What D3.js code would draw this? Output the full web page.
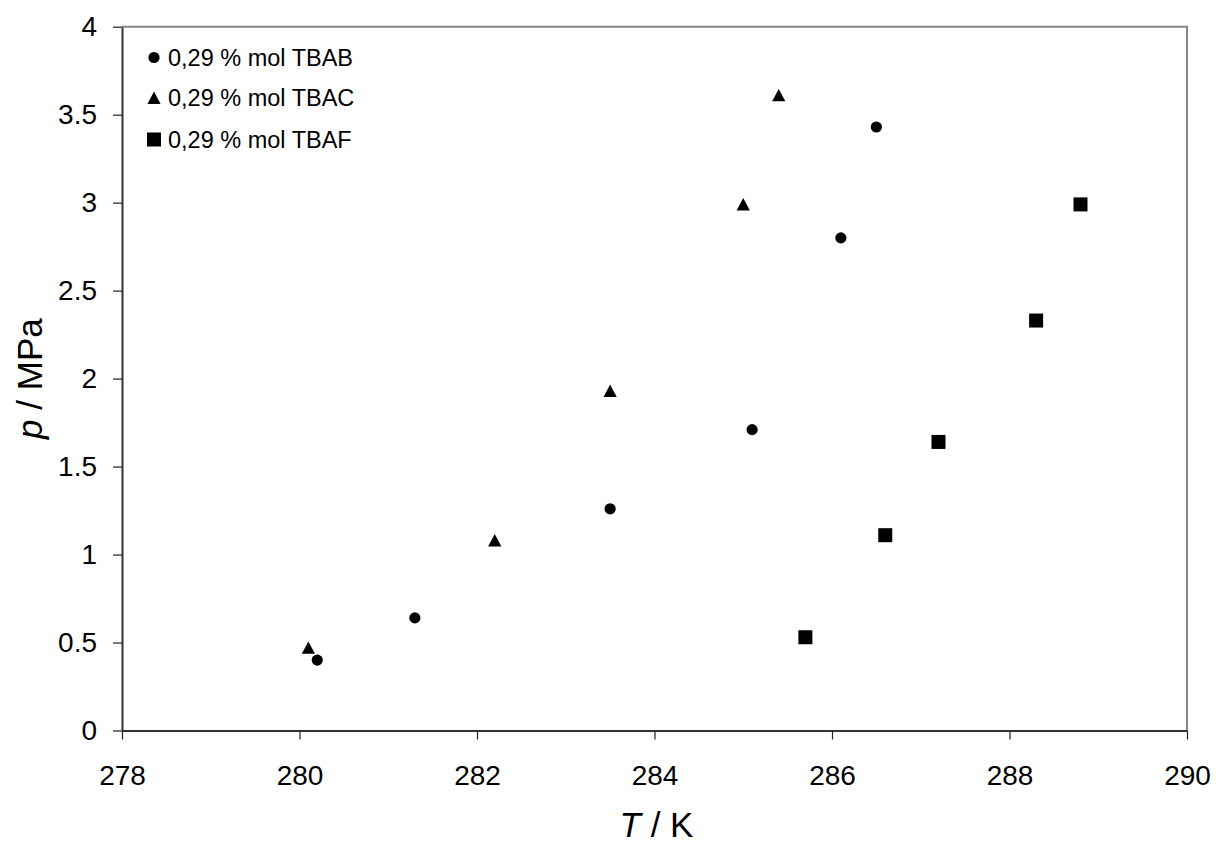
<!DOCTYPE html>
<html>
<head>
<meta charset="utf-8">
<script src="https://cdn.jsdelivr.net/npm/d3@7"></script>
<style>
  html, body { margin: 0; padding: 0; background: #fff; }
  svg { display: block; font-family: "Liberation Sans", Arial, sans-serif; }
</style>
</head>
<body>
<svg id="chart" width="1216" height="843"></svg>
<script>
// ---- data ----
const seriesNames = ["0,29 % mol TBAB", "0,29 % mol TBAC", "0,29 % mol TBAF"];
const seriesShapes = ["circle", "triangle", "square"];
const tbabT = [280.2, 281.3, 283.5, 285.1, 286.1, 286.5];
const tbabP = [0.40, 0.64, 1.26, 1.71, 2.80, 3.43];
const tbacT = [280.1, 282.2, 283.5, 285.0, 285.4];
const tbacP = [0.47, 1.08, 1.93, 2.99, 3.61];
const tbafT = [285.7, 286.6, 287.2, 288.3, 288.8];
const tbafP = [0.53, 1.11, 1.64, 2.33, 2.99];
const xTicks = [278, 280, 282, 284, 286, 288, 290];
const yTicks = [0, 0.5, 1, 1.5, 2, 2.5, 3, 3.5, 4];

const series = [
  {name: seriesNames[0], shape: seriesShapes[0], T: tbabT, p: tbabP},
  {name: seriesNames[1], shape: seriesShapes[1], T: tbacT, p: tbacP},
  {name: seriesNames[2], shape: seriesShapes[2], T: tbafT, p: tbafP}
];

// ---- layout ----
const pL = 122, pR = 1187, pT = 26.7, pB = 730.5;
const svg = d3.select("#chart");

const x = d3.scaleLinear().domain([278, 290]).range([pL, pR]);
const y = d3.scaleLinear().domain([0, 4]).range([pB, pT]);

// plot frame: top and right grey
svg.append("path")
  .attr("d", `M${pL},${pT}H${pR}V${pB}`)
  .attr("fill", "none").attr("stroke", "#868686").attr("stroke-width", 2);

// x axis
const xAxis = svg.append("g")
  .attr("transform", `translate(0,${pB})`)
  .call(d3.axisBottom(x).tickValues(xTicks).tickFormat(d3.format("d"))
        .tickSize(9).tickSizeOuter(0).tickPadding(25.5));
xAxis.select(".domain").attr("stroke", "#333").attr("stroke-width", 2);
xAxis.selectAll(".tick line").attr("stroke", "#222").attr("stroke-width", 1.2);
xAxis.selectAll("text").attr("font-size", 28).attr("fill", "#000")
  .attr("font-family", "Liberation Sans, Arial, sans-serif");

// y axis
const yAxis = svg.append("g")
  .attr("transform", `translate(${pL},0)`)
  .call(d3.axisLeft(y).tickValues(yTicks).tickFormat(d => String(d))
        .tickSize(9).tickSizeOuter(0).tickPadding(16));
yAxis.select(".domain").attr("stroke", "#333").attr("stroke-width", 2);
yAxis.selectAll(".tick line").attr("stroke", "#222").attr("stroke-width", 1.2);
yAxis.selectAll("text").attr("font-size", 28).attr("fill", "#000")
  .attr("font-family", "Liberation Sans, Arial, sans-serif");

// axis titles
const xt = svg.append("text")
  .attr("x", (pL + pR) / 2 + 2).attr("y", 837)
  .attr("text-anchor", "middle").attr("font-size", 35).attr("fill", "#000");
xt.append("tspan").attr("font-style", "italic").text("T");
xt.append("tspan").text(" / K");

const yt = svg.append("text")
  .attr("transform", `translate(42,${(pT + pB) / 2}) rotate(-90)`)
  .attr("text-anchor", "middle").attr("font-size", 35).attr("fill", "#000");
yt.append("tspan").attr("font-style", "italic").text("p");
yt.append("tspan").text(" / MPa");

// marker drawing
function marker(sel, shape) {
  if (shape === "circle") {
    sel.append("circle").attr("r", 5.6).attr("fill", "#000");
  } else if (shape === "triangle") {
    sel.append("path").attr("d", "M0,-6.4L6.6,6L-6.6,6Z").attr("fill", "#000");
  } else {
    sel.append("rect").attr("x", -7).attr("y", -7).attr("width", 14).attr("height", 14).attr("fill", "#000");
  }
}

series.forEach(s => {
  const pts = s.T.map((t, i) => ({t, p: s.p[i]}));
  svg.append("g").selectAll("g").data(pts).join("g")
    .attr("transform", d => `translate(${x(d.t)},${y(d.p)})`)
    .each(function() { marker(d3.select(this), s.shape); });
});

// legend
const legY = [57.5, 98, 139.5];
series.forEach((s, i) => {
  const g = svg.append("g").attr("transform", `translate(154,${legY[i]})`);
  marker(g, s.shape);
  g.append("text").attr("x", 14).attr("y", 0).attr("dy", "0.35em")
    .attr("font-size", 23.5).attr("fill", "#000").text(s.name);
});
</script>
</body>
</html>
